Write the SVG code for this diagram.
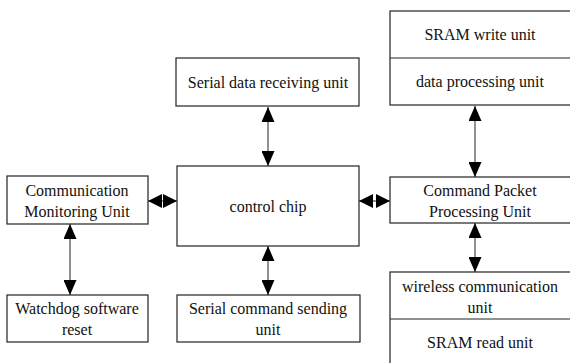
<svg xmlns="http://www.w3.org/2000/svg" width="570" height="363" viewBox="0 0 570 363">
<style>
.box{fill:#fff;stroke:#222;stroke-width:1.2}
.div{stroke:#222;stroke-width:1.2}
.t{font-family:"Liberation Serif","Times New Roman",serif;font-size:16px;fill:#111;text-anchor:middle}
.c{stroke:#555;stroke-width:1.3;fill:none;marker-start:url(#ah);marker-end:url(#ah)}
.h{stroke:#555;stroke-width:1.3;fill:none;marker-start:url(#ah2);marker-end:url(#ah2)}
</style>
<defs>
<marker id="ah" viewBox="0 0 15 13" refX="15" refY="6.5" markerWidth="15" markerHeight="13" markerUnits="userSpaceOnUse" orient="auto-start-reverse">
<path d="M0,0 L15,6.5 L0,13 Z" fill="#000"/>
</marker>
<marker id="ah2" viewBox="0 0 14 14" refX="14" refY="7" markerWidth="14" markerHeight="14" markerUnits="userSpaceOnUse" orient="auto-start-reverse">
<path d="M0,0 L14,7 L0,14 Z" fill="#000"/>
</marker>
</defs>
<rect width="570" height="363" fill="#fff"/>
<g id="connectors">
<line class="c" x1="268" y1="107" x2="268" y2="166"/>
<line class="c" x1="268" y1="246" x2="268" y2="295"/>
<line class="c" x1="70" y1="224" x2="70" y2="295"/>
<line class="c" x1="475" y1="106" x2="475" y2="177"/>
<line class="c" x1="475" y1="223" x2="475" y2="272"/>
<line class="h" x1="148" y1="201" x2="177" y2="201"/>
<line class="h" x1="359" y1="201" x2="390" y2="201"/>
</g>
<g id="serial-data">
<rect class="box" x="176" y="58" width="183" height="48"/>
<text class="t" x="268" y="88">Serial data receiving unit</text>
</g>
<g id="control-chip">
<rect class="box" x="177" y="166" width="182" height="80"/>
<text class="t" x="268" y="212">control chip</text>
</g>
<g id="comm-monitor">
<rect class="box" x="7" y="176" width="141" height="48"/>
<text class="t" x="77" y="196">Communication</text>
<text class="t" x="77" y="217">Monitoring Unit</text>
</g>
<g id="watchdog">
<rect class="box" x="7" y="295" width="141" height="47"/>
<text class="t" x="77" y="314">Watchdog software</text>
<text class="t" x="77" y="335">reset</text>
</g>
<g id="serial-cmd">
<rect class="box" x="177" y="295" width="183" height="47"/>
<text class="t" x="268" y="314">Serial command sending</text>
<text class="t" x="268" y="335">unit</text>
</g>
<g id="sram-write">
<rect class="box" x="390" y="11" width="185" height="94"/>
<line class="div" x1="390" y1="58" x2="575" y2="58"/>
<text class="t" x="480" y="40">SRAM write unit</text>
<text class="t" x="480" y="87">data processing unit</text>
</g>
<g id="cmd-packet">
<rect class="box" x="390" y="177" width="185" height="46"/>
<text class="t" x="480" y="196">Command Packet</text>
<text class="t" x="480" y="217">Processing Unit</text>
</g>
<g id="wireless">
<rect class="box" x="390" y="272" width="185" height="100"/>
<line class="div" x1="390" y1="319" x2="575" y2="319"/>
<text class="t" x="480" y="292">wireless communication</text>
<text class="t" x="480" y="313">unit</text>
<text class="t" x="480" y="348">SRAM read unit</text>
</g>
</svg>
